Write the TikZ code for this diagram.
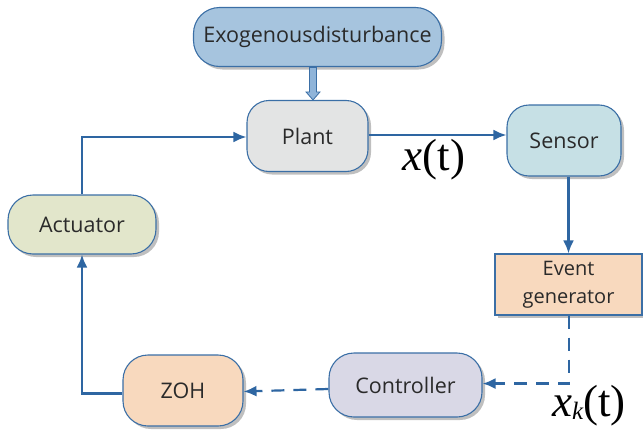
\documentclass[tikz,border=0pt]{standalone}
\usepackage{fontspec}
\setmainfont{Open Sans}
\newfontfamily\tnr{Liberation Serif}
\usetikzlibrary{arrows.meta,shadows,calc}
\definecolor{lnc}{HTML}{2E66A2}
\definecolor{bdc}{HTML}{3B6FA6}
\definecolor{exofill}{HTML}{A6C4DE}
\definecolor{plantfill}{HTML}{E3E4E4}
\definecolor{sensfill}{HTML}{C6E0E5}
\definecolor{actfill}{HTML}{E2E6CB}
\definecolor{evfill}{HTML}{F8D9BE}
\definecolor{ctrlfill}{HTML}{D9D8E6}
\definecolor{txtc}{HTML}{2A2A2A}
\definecolor{harrow}{HTML}{8FB4D9}
\begin{document}
\begin{tikzpicture}[x=1pt,y=-1pt,
  blk/.style={draw=bdc, line width=1.1pt, text=txtc, font=\fontsize{21.5}{24}\selectfont,
    inner sep=0pt, align=center,
    drop shadow={shadow xshift=3pt, shadow yshift=-3pt, opacity=0.5, fill=gray}},
  rblk/.style={blk, rectangle, rounded corners=#1},
  conn/.style={draw=lnc, line width=2.2pt},
  tip/.style={-{Latex[length=13pt,width=11pt]}},
  dsh/.style={conn, dash pattern=on 13pt off 9pt}]
\useasboundingbox (0,0) rectangle (643,434);
\node[rblk=26pt, fill=exofill, minimum width=248pt, minimum height=59pt,
  font=\fontsize{21.5}{24}\selectfont] (exo) at (317.5,37) {Exogenousdisturbance};
\node[rblk=22pt, fill=plantfill, minimum width=121pt, minimum height=71pt] (plant) at (307.5,136) {Plant};
\node[rblk=22pt, fill=sensfill, minimum width=114pt, minimum height=71pt] (sensor) at (564,140.5) {Sensor};
\node[rblk=25pt, fill=actfill, minimum width=148pt, minimum height=59pt] (act) at (82,224.5) {Actuator};
\node[blk, rectangle, fill=evfill, minimum width=147pt, minimum height=61pt,
  font=\fontsize{20}{28}\selectfont] (ev) at (568.5,284.5) {Event\\generator};
\node[rblk=25pt, fill=ctrlfill, minimum width=153pt, minimum height=64pt] (ctrl) at (405.5,385) {Controller};
\node[rblk=25pt, fill=evfill, minimum width=120pt, minimum height=71pt] (zoh) at (183,390.5) {ZOH};

% exogenous hollow block arrow
\coordinate (et) at ($(exo.south)+(-4.5,0.5)$);
\coordinate (ep) at ($(plant.north)+(5.5,0)$);
\filldraw[draw=bdc, fill=harrow, line width=0.8pt]
  ($(et)+(-3.5,0)$) -- ($(ep)+(-3.5,-8)$) -- ($(ep)+(-7,-8)$) -- (ep)
  -- ($(ep)+(7,-8)$) -- ($(ep)+(3.5,-8)$) -- ($(et)+(3.5,0)$) -- cycle;

% connectors
\coordinate (pe) at ($(plant.east)+(0,-1)$);
\draw[conn, tip] (pe) -- (pe -| sensor.west);
\draw[conn, tip] (sensor.south -| ev.north) -- (ev.north);
\coordinate (evb) at ($(ev.south)+(0.5,0)$);
\coordinate (cor) at ($(evb)+(0,68)$);
\draw[dsh, tip] (evb) -- (cor) -- (cor -| ctrl.east);
\draw[dsh, tip] ($(ctrl.west)+(0,4)$) -- ($(zoh.east)+(0,1)$);
\coordinate (zl) at ($(zoh.west)+(0,3)$);
\draw[conn, tip] (zl) -| (act.south);
\draw[conn, tip] (act.north) |- ($(plant.west)+(0,1)$);

% labels
\node[font=\tnr\fontsize{45}{48}\selectfont, inner sep=0pt] (xt) at (434,160) {\textit{x}(t)};
\node[font=\tnr\fontsize{45}{48}\selectfont, inner sep=0pt] (xkt) at (589,406) {\textit{x}\raisebox{-0.05em}{\fontsize{25}{28}\selectfont\textit{k}}(t)};
\end{tikzpicture}
\end{document}
